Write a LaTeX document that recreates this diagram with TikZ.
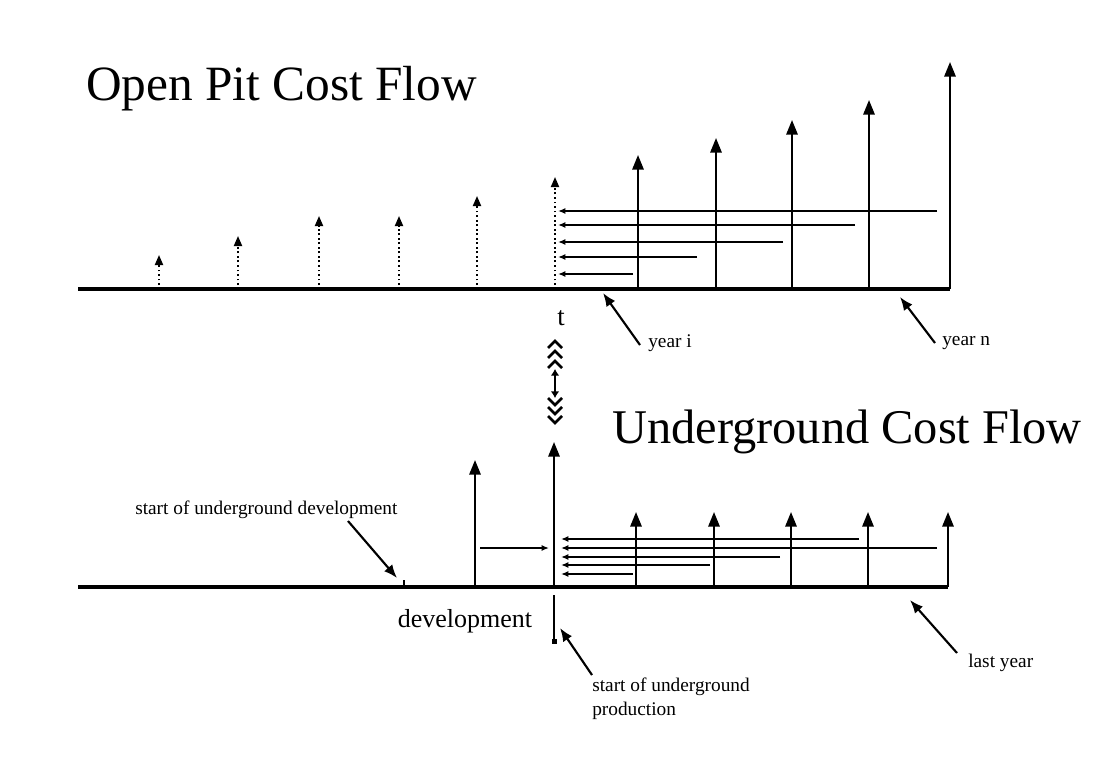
\documentclass[tikz,border=0pt]{standalone}
\usepackage{fontspec}
\setmainfont{Liberation Serif}
\usetikzlibrary{arrows.meta}
\begin{document}
\begin{tikzpicture}[x=0.75pt,y=-0.75pt,
  axis/.style={line width=2.3pt},
  cost/.style={line width=1.6pt,-{Triangle[length=11pt,width=8.5pt]}},
  dotcost/.style={line width=1.4pt,dotted,-{Triangle[length=7.5pt,width=6pt]}},
  flow/.style={line width=1.5pt,-{Latex[length=5.5pt,width=4.5pt]}},
  lead/.style={line width=1.6pt,-{Latex[length=10pt,width=8pt]}},
  lbl/.style={font=\fontsize{14.5}{18}\selectfont, inner sep=0pt},
  title/.style={inner sep=0pt, anchor=base west},
  chev/.style={line width=1.9pt}
]
\useasboundingbox (0,0) rectangle (1105,767);

% ---------- titles ----------
\node[title, font=\fontsize{37}{42}\selectfont] (op) at (86,100) {Open Pit Cost Flow};
\node[title, font=\fontsize{36.3}{42}\selectfont] (ug) at (612,443) {Underground Cost Flow};

% ---------- open pit ----------
\draw[axis] (78,289) -- (950,289);
% dotted (pre-stripping) arrows
\foreach \x/\t in {159/255, 238/236, 319/216, 399/216, 477/196, 555/177}
  \draw[dotcost] (\x,285) -- (\x,\t);
% solid cost arrows
\foreach \x/\t in {638/155, 716/138, 792/120, 869/100, 950/62}
  \draw[cost] (\x,289) -- (\x,\t);
% backward flows
\foreach \y/\e in {211/937, 225/855, 242/783, 257/697, 274/633}
  \draw[flow] (\e,\y) -- (558,\y);

% ---------- t and chevrons ----------
\node[font=\fontsize{20}{22}\selectfont, inner sep=0pt] (t) at (561,318) {t};
\foreach \y in {344,354,364}
  \draw[chev] (548,\y+4) -- (555,\y-3) -- (562,\y+4);
\draw[line width=1.8pt,{Latex[length=5pt,width=6.5pt]}-{Latex[length=5pt,width=6.5pt]}] (555,369) -- (555,398);
\foreach \y in {402,411,420}
  \draw[chev] (548,\y-4) -- (555,\y+3) -- (562,\y-4);

% ---------- underground ----------
\draw[axis] (78,587) -- (948,587);
\draw[line width=1.2pt] (404,580) -- (404,587);
\draw[cost] (475,587) -- (475,460);
\draw[cost] (554,587) -- (554,442);
\draw[flow] (480,548) -- (549,548);
\foreach \x in {636,714,791,868,948}
  \draw[cost] (\x,587) -- (\x,512);
\foreach \y/\e in {539/859, 548/937, 557/780, 565/710, 574/633}
  \draw[flow] (\e,\y) -- (561,\y);
% production start marker
\draw[line width=1.6pt] (554,595) -- (554,641);
\fill (551.5,638.5) rectangle (556.5,643.5);

% ---------- labels ----------
\node[font=\fontsize{19.5}{22}\selectfont, inner sep=0pt] (dev) at (465,621) {development};

\node[lbl, anchor=west] (yi) at (648,343) {year i};
\coordinate (yiA) at (640,345);
\coordinate (yiB) at (603,293);
\draw[lead] (yiA) -- (yiB);

\node[lbl, anchor=west] (yn) at (942,343) {year n};
\coordinate (ynA) at (935,343);
\coordinate (ynB) at (900,297);
\draw[lead] (ynA) -- (ynB);

\node[lbl, anchor=west] (ly) at (968,663) {last year};
\coordinate (lyA) at (957,653);
\coordinate (lyB) at (910,600);
\draw[lead] (lyA) -- (lyB);

\node[lbl, anchor=west] (sud) at (135,510) {start of underground development};
\coordinate (sudA) at (348,521);
\coordinate (sudB) at (397,578);
\draw[lead] (sudA) -- (sudB);

\node[lbl, anchor=north west, align=left] (sup) at (592,678) {start of underground\\production};
\coordinate (supA) at (592,675);
\coordinate (supB) at (560,628);
\draw[lead] (supA) -- (supB);
\end{tikzpicture}
\end{document}
